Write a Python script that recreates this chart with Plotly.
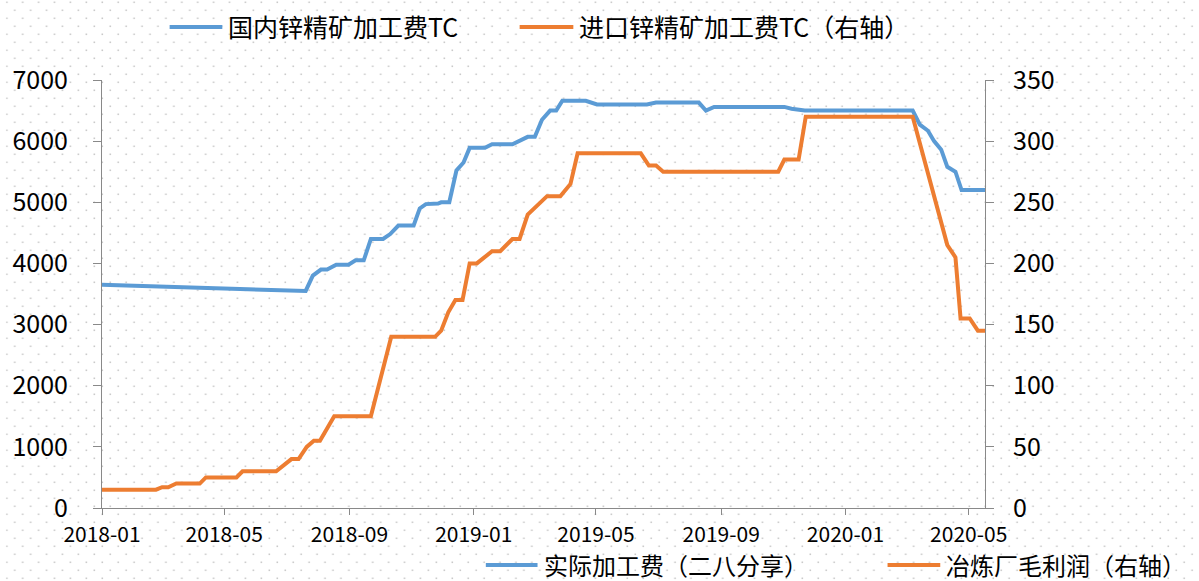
import base64
import plotly.graph_objects as go

# ---------------- data ----------------
dom_dates = ["2018-01-01", "2018-07-20", "2018-07-27", "2018-08-04", "2018-08-10", "2018-08-19",
             "2018-08-31", "2018-09-07", "2018-09-15", "2018-09-22", "2018-10-04", "2018-10-11",
             "2018-10-19", "2018-11-03", "2018-11-09", "2018-11-15", "2018-11-27", "2018-11-30",
             "2018-12-08", "2018-12-15", "2018-12-22", "2018-12-28", "2019-01-12", "2019-01-19",
             "2019-02-08", "2019-02-15", "2019-02-23", "2019-03-02", "2019-03-09", "2019-03-17",
             "2019-03-23", "2019-03-29", "2019-04-21", "2019-05-02", "2019-06-20", "2019-06-29",
             "2019-08-10", "2019-08-17", "2019-08-25", "2019-11-02", "2019-11-09", "2019-11-22",
             "2020-03-07", "2020-03-14", "2020-03-22", "2020-03-28", "2020-04-04", "2020-04-10",
             "2020-04-18", "2020-04-24", "2020-05-17"]
dom_tc = [3650, 3550, 3800, 3900, 3900, 3980,
          3980, 4050, 4050, 4400, 4400, 4480,
          4620, 4620, 4900, 4970, 4980, 5000,
          5000, 5520, 5650, 5890, 5890, 5950,
          5950, 6000, 6070, 6070, 6350, 6500,
          6500, 6660, 6660, 6600, 6600, 6630,
          6630, 6500, 6560, 6560, 6530, 6500,
          6500, 6270, 6170, 6000, 5860, 5580,
          5500, 5200, 5200]

imp_dates = ["2018-01-01", "2018-02-23", "2018-03-01", "2018-03-07", "2018-03-15", "2018-04-07",
             "2018-04-13", "2018-05-13", "2018-05-19", "2018-06-21", "2018-07-06", "2018-07-13",
             "2018-07-21", "2018-07-28", "2018-08-03", "2018-08-17", "2018-09-22", "2018-10-12",
             "2018-11-24", "2018-11-30", "2018-12-07", "2018-12-14", "2018-12-21", "2018-12-28",
             "2019-01-04", "2019-01-12", "2019-01-19", "2019-01-27", "2019-02-02", "2019-02-08",
             "2019-02-15", "2019-02-23", "2019-03-14", "2019-03-27", "2019-04-06", "2019-04-13",
             "2019-06-14", "2019-06-22", "2019-06-29", "2019-07-06", "2019-10-27", "2019-11-02",
             "2019-11-16", "2019-11-23", "2020-03-07", "2020-04-10", "2020-04-18", "2020-04-23",
             "2020-05-02", "2020-05-10", "2020-05-17"]
imp_tc = [15, 15, 17, 17, 20, 20,
          25, 25, 30, 30, 40, 40,
          50, 55, 55, 75, 75, 140,
          140, 145, 160, 170, 170, 200,
          200, 205, 210, 210, 215, 220,
          220, 240, 255, 255, 265, 290,
          290, 280, 280, 275, 275, 285,
          285, 320, 320, 215, 205, 155,
          155, 145, 145]

legend_top = ["国内锌精矿加工费TC", "进口锌精矿加工费TC（右轴）"]
legend_bottom = ["实际加工费（二八分享）", "冶炼厂毛利润（右轴）"]

left_ticks = [0, 1000, 2000, 3000, 4000, 5000, 6000, 7000]
right_ticks = [0, 50, 100, 150, 200, 250, 300, 350]

# ---------------- style ----------------
BLUE = "#5B9BD5"
ORANGE = "#ED7D31"
AXIS = "#898989"
FONT = "Noto Sans CJK SC"
W, H = 1199, 581
L, R, T, B = 97, 985, 80, 508   # plot area in pixels
PW, PH = R - L, B - T


def px(x):
    return (x - L) / PW


def py(y):
    return (B - y) / PH


# dotted background pattern (decor)
svg = (f'<svg xmlns="http://www.w3.org/2000/svg" width="{W}" height="{H}">'
       '<defs><pattern id="p" width="16" height="16" patternUnits="userSpaceOnUse">'
       '<rect x="0.5" y="1.5" width="1.6" height="1.6" fill="#c9c9c9"/>'
       '<rect x="8.5" y="9.5" width="1.6" height="1.6" fill="#c9c9c9"/>'
       '</pattern></defs>'
       f'<rect width="{W}" height="{H}" fill="white"/>'
       f'<rect width="{W}" height="{H}" fill="url(#p)"/></svg>')
bg_src = "data:image/svg+xml;base64," + base64.b64encode(svg.encode()).decode()

fig = go.Figure()
fig.add_trace(go.Scatter(x=dom_dates, y=dom_tc, mode="lines", name=legend_top[0],
                         line=dict(color=BLUE, width=4), yaxis="y"))
fig.add_trace(go.Scatter(x=imp_dates, y=imp_tc, mode="lines", name=legend_top[1],
                         line=dict(color=ORANGE, width=4), yaxis="y2"))

fig.update_layout(
    width=W, height=H,
    margin=dict(l=L, r=W - R, t=T, b=H - B, pad=0),
    paper_bgcolor="white", plot_bgcolor="white",
    showlegend=False,
    font=dict(family=FONT, color="#000000"),
    xaxis=dict(type="date", range=["2018-01-01", "2020-05-17"],
               tick0="2018-01-01", dtick="M4", tickformat="%Y-%m",
               showgrid=False, zeroline=False, showline=True, linecolor=AXIS, linewidth=1,
               ticks="outside", ticklen=6, tickcolor=AXIS,
               tickfont=dict(size=21, family=FONT), ticklabelstandoff=2),
    yaxis=dict(range=[0, 7000], tickvals=left_ticks, showgrid=False, zeroline=False,
               showline=True, linecolor=AXIS, linewidth=1,
               ticks="outside", ticklen=8, tickcolor=AXIS,
               tickfont=dict(size=25, family=FONT), ticklabelstandoff=20),
    yaxis2=dict(range=[0, 350], tickvals=right_ticks, overlaying="y", side="right",
                showgrid=False, zeroline=False, showline=True, linecolor=AXIS, linewidth=1,
                ticks="outside", ticklen=8, tickcolor=AXIS,
                tickfont=dict(size=25, family=FONT), ticklabelstandoff=14),
    images=[dict(source=bg_src, xref="paper", yref="paper",
                 x=px(0), y=py(0), sizex=W / PW, sizey=H / PH,
                 xanchor="left", yanchor="top", sizing="stretch", layer="below")],
)

# manual legends (top and bottom): (line x0, line x1, line y, text y, font size, colour, text)
legend_items = [
    (165, 218, 27, 26, 25, BLUE, legend_top[0]),
    (517, 571, 27, 26, 25, ORANGE, legend_top[1]),
    (483, 535, 565, 564.5, 24, BLUE, legend_bottom[0]),
    (887, 940, 565, 564.5, 24, ORANGE, legend_bottom[1]),
]
for x0, x1, yy, ty, fs, col, txt in legend_items:
    fig.add_shape(type="line", xref="paper", yref="paper",
                  x0=px(x0), x1=px(x1), y0=py(yy), y1=py(yy),
                  line=dict(color=col, width=4))
    fig.add_annotation(xref="paper", yref="paper", x=px(x1 + 4), y=py(ty),
                       text=txt, showarrow=False, xanchor="left", yanchor="middle",
                       font=dict(size=fs, family=FONT, color="#000000"))

fig.write_html("out.html", config={"displayModeBar": False},
               post_script="document.body.style.margin='0';document.body.style.padding='0';")
